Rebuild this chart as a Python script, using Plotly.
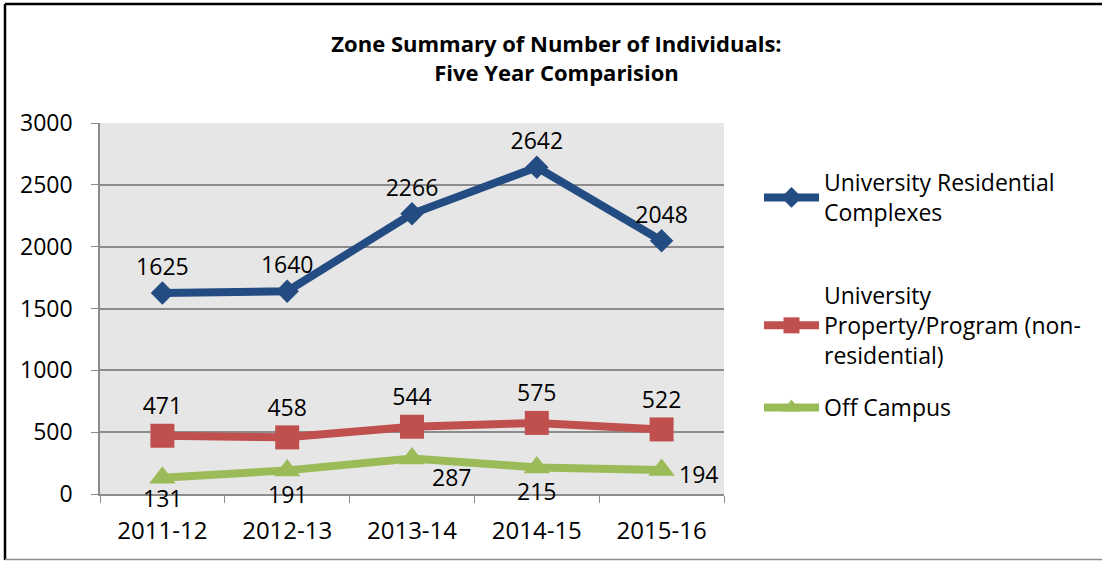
import plotly.graph_objects as go

years = ["2011-12", "2012-13", "2013-14", "2014-15", "2015-16"]
residential = [1625, 1640, 2266, 2642, 2048]
non_residential = [471, 458, 544, 575, 522]
off_campus = [131, 191, 287, 215, 194]

# pixel offsets of the Off Campus value labels from their points
off_campus_dx = [0, 0, 39, 0, 37]
off_campus_dy = [-20, -24, -18, -24, -4]

FONT = "Open Sans"
W, H = 1102, 561
L, R, T, B = 100, 378, 123, 67
PW, PH = W - L - R, H - T - B


def px_x(x):
    return (x - L) / PW


def px_y(y):
    return (H - B - y) / PH


label_font = dict(size=23, color="black", family=FONT)

fig = go.Figure()

fig.add_trace(go.Scatter(
    x=years, y=residential, mode="lines+markers+text",
    name="University Residential<br>Complexes",
    line=dict(color="#234C82", width=8),
    marker=dict(symbol="diamond", size=18, color="#234C82"),
    text=[str(v) for v in residential], textposition="top center",
    textfont=label_font, cliponaxis=False,
    legend="legend",
))
fig.add_trace(go.Scatter(
    x=years, y=non_residential, mode="lines+markers+text",
    name="University<br>Property/Program (non-<br>residential)",
    line=dict(color="#C0504D", width=8),
    marker=dict(symbol="square", size=24, color="#C0504D"),
    text=[str(v) for v in non_residential], textposition="top center",
    textfont=label_font, cliponaxis=False,
    legend="legend2",
))
fig.add_trace(go.Scatter(
    x=years, y=off_campus, mode="lines+markers",
    name="Off Campus",
    line=dict(color="#9BBB59", width=8),
    marker=dict(symbol="triangle-up", size=23, color="#9BBB59"),
    cliponaxis=False,
    legend="legend3",
))

for yr, v, dx, dy in zip(years, off_campus, off_campus_dx, off_campus_dy):
    fig.add_annotation(
        x=yr, y=v, text=str(v), showarrow=False,
        xshift=dx, yshift=dy, font=label_font,
    )

legend_common = dict(
    font=dict(size=23, family=FONT, color="black"),
    bgcolor="rgba(0,0,0,0)", itemwidth=55, xanchor="left", yanchor="top",
)

fig.update_layout(
    width=W, height=H,
    margin=dict(l=L, r=R, t=T, b=B, autoexpand=False),
    paper_bgcolor="white", plot_bgcolor="#E6E6E6",
    font=dict(family=FONT, size=23, color="black"),
    title=dict(
        text="<b>Zone Summary of Number of Individuals:<br>Five Year Comparision</b>",
        x=0.505, xref="container", xanchor="center",
        y=1 - 52 / H, yref="container", yanchor="top",
        font=dict(size=22, family=FONT, color="black"),
    ),
    xaxis=dict(
        type="category", range=[-0.5, 4.5],
        showgrid=False, showline=True, linecolor="#8C8C8C", linewidth=1.5,
        ticks="outside", tickson="boundaries", ticklen=7, tickcolor="#8C8C8C",
        ticklabelstandoff=14, tickfont=dict(size=24),
    ),
    yaxis=dict(
        range=[0, 3000], dtick=500, tickformat="d",
        showgrid=True, gridcolor="#8C8C8C", gridwidth=1.5,
        showline=True, linecolor="#8C8C8C", linewidth=1.5,
        ticks="outside", ticklen=7, tickcolor="#8C8C8C",
        zeroline=False, ticklabelstandoff=14, tickfont=dict(size=23),
    ),
    showlegend=True,
    legend=dict(x=px_x(759), y=px_y(161), **legend_common),
    legend2=dict(x=px_x(759), y=px_y(274), **legend_common),
    legend3=dict(x=px_x(759), y=px_y(386), **legend_common),
    shapes=[
        dict(type="line", xref="paper", yref="paper", x0=px_x(5), x1=px_x(1102), y0=px_y(4), y1=px_y(4),
             line=dict(color="black", width=2.5)),
        dict(type="line", xref="paper", yref="paper", x0=px_x(5), x1=px_x(5), y0=px_y(4), y1=px_y(560),
             line=dict(color="black", width=2.5)),
        dict(type="line", xref="paper", yref="paper", x0=px_x(5), x1=px_x(1102), y0=px_y(559.5), y1=px_y(559.5),
             line=dict(color="#8C8C8C", width=1.5)),
    ],
)

# page body has a default 8px margin; drop it so the figure sits at the top-left corner
fig.write_html(
    "out.html",
    config={"displayModeBar": False},
    post_script="document.body.style.margin='0';",
)
